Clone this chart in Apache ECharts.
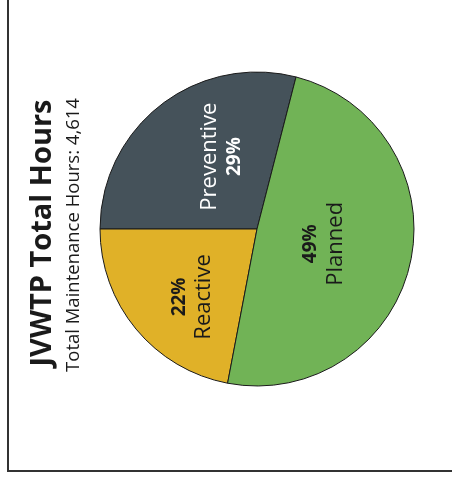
<!DOCTYPE html>
<html>
<head>
<meta charset="utf-8">
<style>
  html, body { margin: 0; padding: 0; background: #ffffff; }
  #chart { width: 452px; height: 480px; }
</style>
<script src="https://cdn.jsdelivr.net/npm/echarts@6/dist/echarts.min.js"></script>
</head>
<body>
<div id="chart"></div>
<script>
// Maintenance hours split by work type (percent of total)
const categories = ['Preventive', 'Reactive', 'Planned'];
const shares = [29, 22, 49];
const totalHours = '4,614';
const titleText = 'JVWTP Total Hours';
const subtitleText = 'Total Maintenance Hours: ' + totalHours;

const sliceColors = ['#45525a', '#e0b128', '#71b356'];
const labelColors = ['#ffffff', '#1a1a1a', '#1a1a1a'];
// percent line first or name line first, per slice
const percentFirst = [false, true, true];
// screen-space nudges (right, down) of each label from its default inside spot
const labelNudge = [[15, -8], [-2, 16], [-13, -3]];

const chart = echarts.init(document.getElementById('chart'));

const pieData = categories.map((name, i) => ({
  name: name,
  value: shares[i],
  itemStyle: { color: sliceColors[i] },
  label: {
    color: labelColors[i],
    formatter: percentFirst[i] ? '{p|{c}%}\n{n|{b}}' : '{n|{b}}\n{p|{c}%}',
    rich: {
      n: { fontFamily: 'Open Sans', fontSize: 22, color: labelColors[i], lineHeight: 26 },
      p: { fontFamily: 'Open Sans', fontSize: 19, fontWeight: 'bold', color: labelColors[i], lineHeight: 24 }
    }
  }
}));

chart.setOption({
  animation: false,
  graphic: [
    {
      type: 'rect',
      shape: { x: 8, y: -20, width: 480, height: 491 },
      style: { fill: 'none', stroke: '#333333', lineWidth: 2 },
      silent: true
    },
    {
      type: 'text',
      x: 43, y: 233,
      rotation: Math.PI / 2,
      style: {
        text: titleText,
        fontFamily: 'Open Sans',
        fontWeight: 'bold',
        fontSize: 29,
        fill: '#1a1a1a',
        align: 'center',
        verticalAlign: 'middle'
      }
    },
    {
      type: 'text',
      x: 74, y: 235,
      rotation: Math.PI / 2,
      style: {
        text: subtitleText,
        fontFamily: 'Open Sans',
        fontSize: 18.5,
        fill: '#1a1a1a',
        align: 'center',
        verticalAlign: 'middle'
      }
    }
  ],
  series: [{
    type: 'pie',
    center: [257, 229],
    radius: 157,
    startAngle: 75.6,
    clockwise: false,
    data: pieData,
    itemStyle: { borderColor: '#1a1a1a', borderWidth: 1 },
    label: {
      show: true,
      position: 'inside',
      rotate: 90,
      overflow: 'none',
      align: 'center',
      verticalAlign: 'middle'
    },
    labelLine: { show: false },
    labelLayout: function (params) {
      const s = labelNudge[params.dataIndex];
      // label offsets act in the rotated text frame
      return { dx: -s[1], dy: s[0], rotate: 90 };
    },
    emphasis: { disabled: true }
  }]
});
</script>
</body>
</html>
